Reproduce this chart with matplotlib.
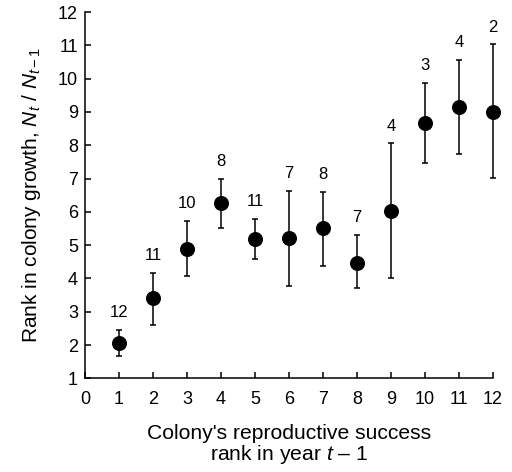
import matplotlib
matplotlib.use("Agg")
import matplotlib.pyplot as plt

plt.rcParams["font.family"] = ["Liberation Sans", "DejaVu Sans"]
plt.rcParams["mathtext.fontset"] = "custom"
plt.rcParams["mathtext.rm"] = "Liberation Sans"
plt.rcParams["mathtext.it"] = "Liberation Sans:italic"

# Data
ranks = [1, 2, 3, 4, 5, 6, 7, 8, 9, 10, 11, 12]
growth_rank = [2.07, 3.4, 4.87, 6.25, 5.17, 5.2, 5.5, 4.47, 6.02, 8.68, 9.16, 9.0]
upper = [2.46, 4.17, 5.72, 6.98, 5.78, 6.64, 6.61, 5.31, 8.06, 9.88, 10.56, 11.03]
lower = [1.67, 2.6, 4.06, 5.52, 4.59, 3.76, 4.37, 3.7, 4.0, 7.47, 7.74, 7.02]
n_colonies = [12, 11, 10, 8, 11, 7, 8, 7, 4, 3, 4, 2]

fig = plt.figure(figsize=(5.12, 4.72), dpi=100)
ax = fig.add_axes([0.166, 0.1985, 0.797, 0.776])

yerr = [[g - lo for g, lo in zip(growth_rank, lower)],
        [hi - g for g, hi in zip(growth_rank, upper)]]
ax.errorbar(ranks, growth_rank, yerr=yerr, fmt="o", color="black",
            markersize=9.8, elinewidth=1.1, capsize=2.5, capthick=1.1,
            clip_on=False)

# sample sizes above each bar
for x, hi, n in zip(ranks, upper, n_colonies):
    ax.annotate(str(n), (x, hi), xytext=(0, 7), textcoords="offset points",
                ha="center", va="bottom", fontsize=12)

ax.set_xlim(0, 12)
ax.set_ylim(1, 12)
ax.set_xticks(range(0, 13))
ax.set_yticks(range(1, 13))
ax.tick_params(direction="in", length=4, width=1.1, labelsize=13)
ax.tick_params(axis="x", pad=9)
ax.tick_params(axis="y", pad=5)
for side in ("top", "right"):
    ax.spines[side].set_visible(False)
for side in ("left", "bottom"):
    ax.spines[side].set_linewidth(1.1)

ax.set_ylabel("Rank in colony growth, $N_t$ / $N_{t-1}$", fontsize=15, labelpad=11)
ax.set_xlabel("Colony's reproductive success\nrank in year $t$ \u2013 1", fontsize=15.2,
              labelpad=12, linespacing=0.95)

fig.savefig("out.png", dpi=100)
